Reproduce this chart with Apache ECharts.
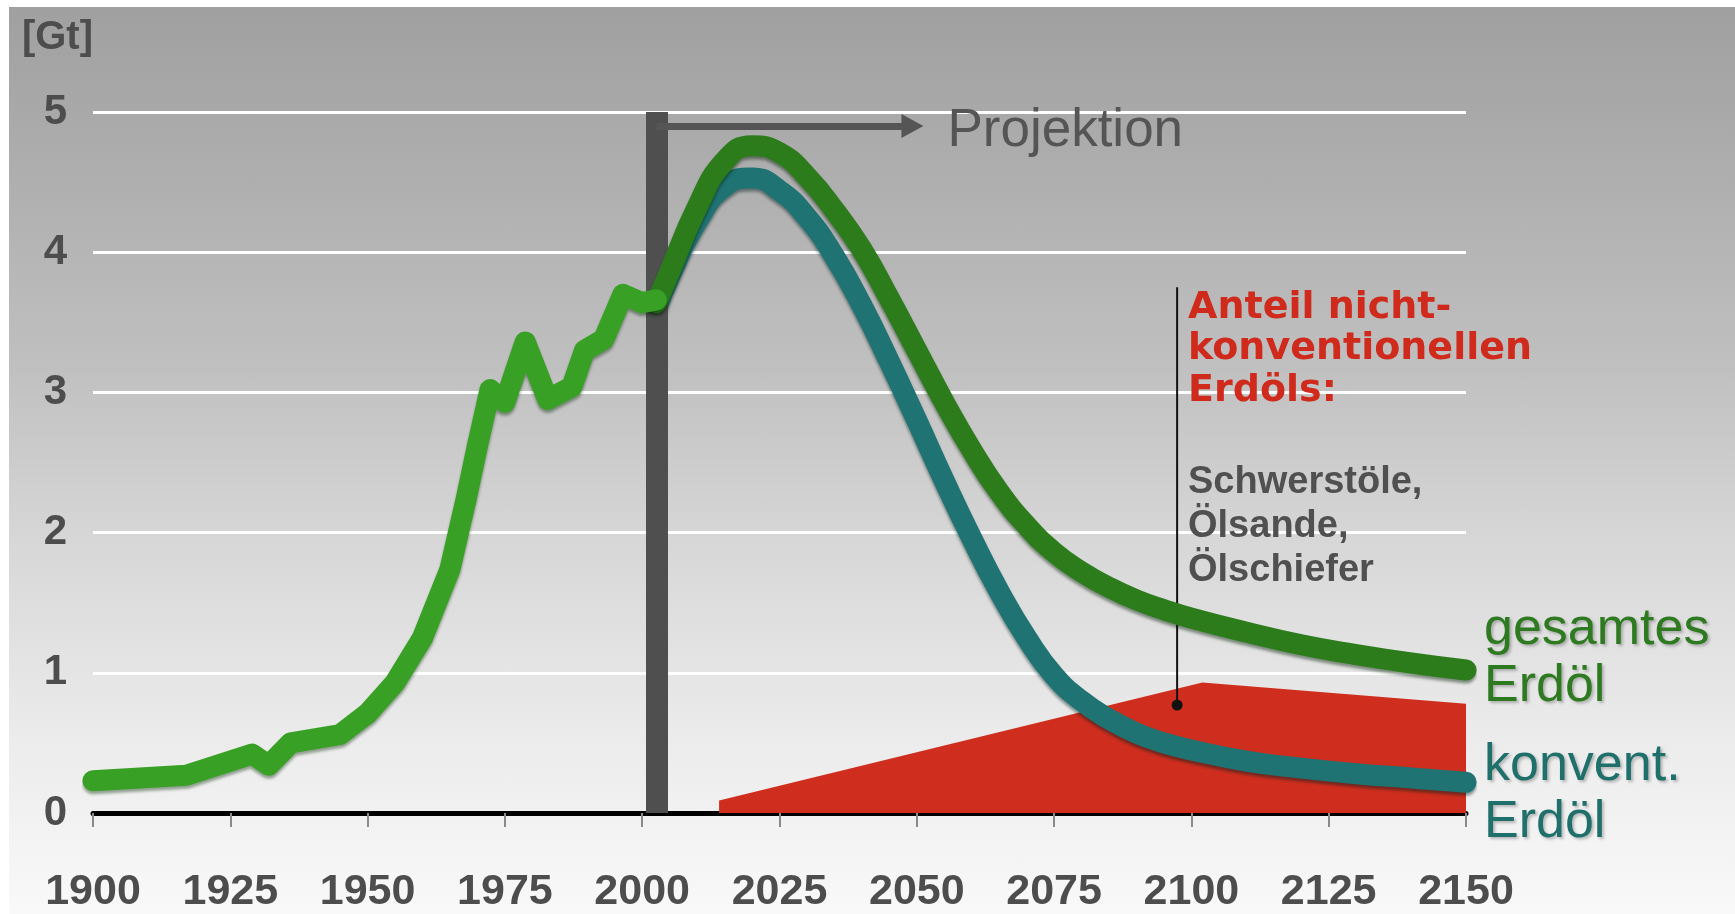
<!DOCTYPE html>
<html>
<head>
<meta charset="utf-8">
<script src="https://cdn.jsdelivr.net/npm/echarts@6/dist/echarts.min.js"></script>
<style>
  html, body { margin: 0; padding: 0; background: #fff; }
  #chart {
    width: 1735px; height: 914px;
    background: linear-gradient(to bottom, #a0a0a0 0%, #a9a9a9 12%, #c0c0c0 40%, #d6d6d6 58%, #ebebeb 80%, #f9f9f9 100%) 9px 7px / 1726px 907px no-repeat #fff;
  }
</style>
</head>
<body>
<div id="chart"></div>
<script>
// Axis range (years) and tick step
const yearMin = 1900;
const yearMax = 2150;
const yearStep = 25;
const gtMin = 0;
const gtMax = 5;
const gtStep = 1;

// World oil production so far (Gt per year)
const histYears  = [1900, 1917, 1929, 1932, 1936, 1945, 1950, 1955, 1960, 1965, 1968, 1970, 1972.3, 1975, 1978.7, 1982.8, 1987.2, 1989.5, 1993, 1996.5, 2000, 2002.6];
const histValues = [0.23, 0.27, 0.42, 0.34, 0.50, 0.56, 0.71, 0.93, 1.25, 1.74, 2.25, 2.62, 3.02,   2.93, 3.36,   2.95,   3.04,   3.30,   3.38, 3.70,   3.64, 3.66];

// Projection: total oil
const totalYears  = [2002.6, 2005, 2010, 2015, 2020, 2025, 2030, 2035, 2040, 2045, 2050, 2055, 2060, 2065, 2070, 2075, 2080, 2085, 2090, 2095, 2100, 2110, 2120, 2130, 2140, 2150];
const totalValues = [3.64,   3.86, 4.32, 4.65, 4.76, 4.71, 4.54, 4.30, 4.02, 3.67, 3.30, 2.93, 2.59, 2.29, 2.05, 1.86, 1.72, 1.61, 1.52, 1.45, 1.39, 1.29, 1.20, 1.13, 1.07, 1.02];

// Projection: conventional oil
const convYears  = [2002.6, 2005, 2010, 2015, 2020, 2025, 2030, 2035, 2040, 2045, 2050, 2055, 2060, 2065, 2070, 2075, 2080, 2085, 2090, 2095, 2100, 2110, 2120, 2130, 2140, 2150];
const convValues = [3.60,   3.83, 4.22, 4.47, 4.53, 4.44, 4.25, 3.97, 3.62, 3.22, 2.80, 2.37, 1.96, 1.58, 1.25, 0.98, 0.80, 0.67, 0.57, 0.50, 0.45, 0.37, 0.32, 0.28, 0.25, 0.22];

// Share of unconventional oil (heavy oil, oil sands, oil shale)
const unconvYears  = [2014, 2102, 2150];
const unconvValues = [0.09, 0.93, 0.78];

// Start of the projection and the callout pointing into the red area
const projectionStart = 2002.6;
const arrowLevel = 4.9;
const arrowEnd = 2049.2;
const calloutYear = 2097.4;
const calloutFrom = 0.77;
const calloutTo = 3.75;

const pairs = (xs, ys) => xs.map((x, i) => [x, ys[i]]);

const sans = '"Liberation Sans", Arial, sans-serif';
const wide = '"DejaVu Sans", Verdana, sans-serif';

const chart = echarts.init(document.getElementById('chart'));

chart.setOption({
  backgroundColor: 'transparent',
  animation: false,
  grid: { left: 93, right: 269, top: 112, bottom: 100, containLabel: false },
  xAxis: {
    type: 'value',
    min: yearMin, max: yearMax, interval: yearStep,
    axisLine: { show: true, onZero: false, lineStyle: { color: '#000', width: 5 } },
    axisTick: { show: true, length: 14, lineStyle: { color: '#8a8a8a', width: 2 } },
    axisLabel: {
      margin: 58, color: '#4d4d4d', fontFamily: sans, fontWeight: 'bold', fontSize: 43,
      formatter: v => String(v)
    },
    splitLine: { show: false }
  },
  yAxis: {
    type: 'value',
    min: gtMin, max: gtMax, interval: gtStep,
    name: '[Gt]',
    nameLocation: 'end',
    nameGap: 74,
    nameTextStyle: { color: '#4d4d4d', fontFamily: sans, fontWeight: 'bold', fontSize: 40, align: 'right', verticalAlign: 'middle' },
    axisLine: { show: false },
    axisTick: { show: false },
    axisLabel: { margin: 26, color: '#4d4d4d', fontFamily: sans, fontWeight: 'bold', fontSize: 42 },
    splitLine: { show: true, lineStyle: { color: '#ffffff', width: 3 } }
  },
  series: [
    {
      name: 'nicht-konventionelles Erdöl',
      type: 'line',
      z: 2,
      data: pairs(unconvYears, unconvValues),
      symbol: 'none',
      lineStyle: { width: 0 },
      areaStyle: { color: '#cf2e1e', opacity: 1 },
      silent: true
    },
    {
      name: 'Hinweis',
      type: 'line',
      z: 3,
      data: [
        { value: [calloutYear, calloutFrom], symbol: 'circle', symbolSize: 11 },
        { value: [calloutYear, calloutTo], symbol: 'none' }
      ],
      showSymbol: true,
      lineStyle: { color: '#111', width: 2 },
      itemStyle: { color: '#111' },
      silent: true
    },
    {
      name: 'konventionelles Erdöl',
      type: 'line',
      z: 4,
      data: pairs(convYears, convValues),
      smooth: 0.5,
      symbol: 'none',
      lineStyle: {
        color: '#1f7373', width: 21, cap: 'round', join: 'round',
        shadowColor: 'rgba(0,30,30,0.45)', shadowBlur: 3, shadowOffsetY: 3
      },
      endLabel: {
        show: true,
        formatter: 'konvent.\nErdöl',
        color: '#1f6f6b', fontFamily: sans, fontSize: 52, lineHeight: 57,
        distance: 18, offset: [0, 12],
        textShadowColor: 'rgba(0,0,0,0.25)', textShadowBlur: 3, textShadowOffsetX: 2, textShadowOffsetY: 2
      },
      silent: true
    },
    {
      name: 'gesamtes Erdöl',
      type: 'line',
      z: 5,
      data: pairs(totalYears, totalValues),
      smooth: 0.5,
      symbol: 'none',
      lineStyle: {
        color: '#2c7c1c', width: 21, cap: 'round', join: 'round',
        shadowColor: 'rgba(0,30,0,0.45)', shadowBlur: 3, shadowOffsetY: 3
      },
      endLabel: {
        show: true,
        formatter: 'gesamtes\nErdöl',
        color: '#2e7a20', fontFamily: sans, fontSize: 52, lineHeight: 57,
        distance: 18, offset: [0, -12],
        textShadowColor: 'rgba(0,0,0,0.25)', textShadowBlur: 3, textShadowOffsetX: 2, textShadowOffsetY: 2
      },
      silent: true
    },
    {
      name: 'Förderung bisher',
      type: 'line',
      z: 6,
      data: pairs(histYears, histValues),
      symbol: 'none',
      lineStyle: {
        color: '#38a024', width: 21, cap: 'round', join: 'round',
        shadowColor: 'rgba(0,40,0,0.4)', shadowBlur: 3, shadowOffsetY: 3
      },
      markLine: {
        silent: true,
        symbol: ['none', 'none'],
        animation: false,
        data: [
          {
            xAxis: projectionStart,
            lineStyle: { color: '#4f4f4f', width: 22, type: 'solid' },
            label: { show: false }
          },
          [
            {
              coord: [projectionStart, arrowLevel],
              symbol: 'none',
              lineStyle: { color: '#555', width: 7, type: 'solid' },
              label: {
                show: true, position: 'end', formatter: 'Projektion', distance: 35,
                offset: [0, 5],
                color: '#555', fontFamily: sans, fontSize: 53
              }
            },
            { coord: [arrowEnd, arrowLevel], symbol: 'triangle', symbolSize: [24, 22] }
          ]
        ]
      },
      silent: true
    }
  ],
  graphic: [
    {
      type: 'text', left: 1188, top: 287, z: 10,
      style: {
        text: 'Anteil nicht-\nkonventionellen\nErdöls:',
        fill: '#cf2a1c', fontFamily: wide, fontWeight: 'bold', fontSize: 38, lineHeight: 41.7
      }
    },
    {
      type: 'text', left: 1188, top: 461, z: 10,
      style: {
        text: 'Schwerstöle,\nÖlsande,\nÖlschiefer',
        fill: '#505050', fontFamily: sans, fontWeight: 'bold', fontSize: 38, lineHeight: 44
      }
    }
  ]
});
</script>
</body>
</html>
